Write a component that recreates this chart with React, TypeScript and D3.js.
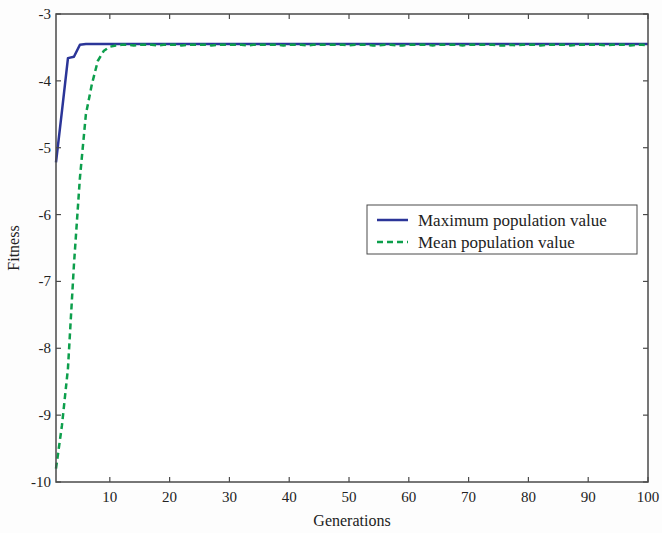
import React from "react";
import * as d3 from "d3";

// Best fitness per generation
const maxValues: number[] = [
  -5.22, -4.45, -3.66, -3.64, -3.46, -3.45, -3.45, -3.45, -3.45, -3.45,
  -3.45, -3.45, -3.45, -3.45, -3.45, -3.45, -3.45, -3.45, -3.45, -3.45,
  -3.45, -3.45, -3.45, -3.45, -3.45, -3.45, -3.45, -3.45, -3.45, -3.45,
  -3.45, -3.45, -3.45, -3.45, -3.45, -3.45, -3.45, -3.45, -3.45, -3.45,
  -3.45, -3.45, -3.45, -3.45, -3.45, -3.45, -3.45, -3.45, -3.45, -3.45,
  -3.45, -3.45, -3.45, -3.45, -3.45, -3.45, -3.45, -3.45, -3.45, -3.45,
  -3.45, -3.45, -3.45, -3.45, -3.45, -3.45, -3.45, -3.45, -3.45, -3.45,
  -3.45, -3.45, -3.45, -3.45, -3.45, -3.45, -3.45, -3.45, -3.45, -3.45,
  -3.45, -3.45, -3.45, -3.45, -3.45, -3.45, -3.45, -3.45, -3.45, -3.45,
  -3.45, -3.45, -3.45, -3.45, -3.45, -3.45, -3.45, -3.45, -3.45, -3.45,
];

// Mean fitness of the population per generation
const meanValues: number[] = [
  -9.80, -9.15, -8.30, -6.75, -5.45, -4.50, -4.05, -3.70, -3.55, -3.49,
  -3.47, -3.46, -3.46, -3.47, -3.46, -3.46, -3.46, -3.47, -3.46, -3.46,
  -3.46, -3.47, -3.46, -3.46, -3.46, -3.46, -3.47, -3.46, -3.46, -3.46,
  -3.46, -3.46, -3.47, -3.46, -3.46, -3.46, -3.46, -3.46, -3.47, -3.46,
  -3.46, -3.46, -3.47, -3.46, -3.46, -3.46, -3.46, -3.46, -3.46, -3.47,
  -3.46, -3.46, -3.46, -3.47, -3.47, -3.46, -3.46, -3.47, -3.47, -3.46,
  -3.46, -3.46, -3.46, -3.47, -3.46, -3.46, -3.46, -3.46, -3.47, -3.46,
  -3.46, -3.46, -3.46, -3.46, -3.47, -3.47, -3.46, -3.47, -3.46, -3.46,
  -3.46, -3.47, -3.46, -3.46, -3.46, -3.46, -3.47, -3.46, -3.46, -3.46,
  -3.46, -3.46, -3.47, -3.46, -3.46, -3.46, -3.47, -3.46, -3.46, -3.47,
];

const xTicks: number[] = [10, 20, 30, 40, 50, 60, 70, 80, 90, 100];
const yTicks: number[] = [-3, -4, -5, -6, -7, -8, -9, -10];
const seriesNames: string[] = ["Maximum population value", "Mean population value"];

const W = 662;
const H = 533;
const M = { left: 56, right: 14, top: 14, bottom: 51 };
const FONT = '"Liberation Serif", "DejaVu Serif", "Times New Roman", Times, serif';
const BLUE = "#2b3598";
const GREEN = "#0d9f4c";
const AXIS = "#4a4a4a";
const TICK = 5;

export default function App() {
  const x = d3.scaleLinear().domain([1, 100]).range([M.left, W - M.right]);
  const y = d3.scaleLinear().domain([-10, -3]).range([H - M.bottom, M.top]);
  const line = d3
    .line<number>()
    .x((_, i) => x(i + 1))
    .y((d) => y(d));

  const x0 = x.range()[0];
  const x1 = x.range()[1];
  const y0 = y.range()[0];
  const y1 = y.range()[1];

  const lg = { x: 367, y: 205, w: 270, h: 49 };
  const textStyle = { fontFamily: FONT };

  return (
    <svg
      width={W}
      height={H}
      style={{ position: "absolute", left: 0, top: 0, background: "#fdfdfd", fontFamily: FONT }}
    >
      <rect x={0} y={0} width={W} height={H} fill="#fdfdfd" />
      <rect x={x0} y={y1} width={x1 - x0} height={y0 - y1} fill="#ffffff" />

      {/* data lines */}
      <path d={line(maxValues) ?? ""} fill="none" stroke={BLUE} strokeWidth={2.5} strokeLinejoin="round" />
      <path
        d={line(meanValues) ?? ""}
        fill="none"
        stroke={GREEN}
        strokeWidth={2.5}
        strokeDasharray="6,4"
      />

      {/* axes box */}
      <rect x={x0} y={y1} width={x1 - x0} height={y0 - y1} fill="none" stroke={AXIS} strokeWidth={1.5} />

      {/* x ticks, bottom and top */}
      {xTicks.map((t) => (
        <g key={"x" + t}>
          <line x1={x(t)} x2={x(t)} y1={y0} y2={y0 - TICK} stroke={AXIS} strokeWidth={1.2} />
          <line x1={x(t)} x2={x(t)} y1={y1} y2={y1 + TICK} stroke={AXIS} strokeWidth={1.2} />
          <text x={x(t)} y={y0 + 20} textAnchor="middle" fontSize={15} fill="#222" style={textStyle}>
            {t}
          </text>
        </g>
      ))}

      {/* y ticks, left and right */}
      {yTicks.map((t) => (
        <g key={"y" + t}>
          <line x1={x0} x2={x0 + TICK} y1={y(t)} y2={y(t)} stroke={AXIS} strokeWidth={1.2} />
          <line x1={x1} x2={x1 - TICK} y1={y(t)} y2={y(t)} stroke={AXIS} strokeWidth={1.2} />
          <text x={x0 - 5} y={y(t) + 5} textAnchor="end" fontSize={15} fill="#222" style={textStyle}>
            {t}
          </text>
        </g>
      ))}

      {/* axis titles */}
      <text x={(x0 + x1) / 2} y={526} textAnchor="middle" fontSize={16} fill="#222" style={textStyle}>
        Generations
      </text>
      <text
        transform={`translate(19, ${(y0 + y1) / 2}) rotate(-90)`}
        textAnchor="middle"
        fontSize={16}
        fill="#222"
        style={textStyle}
      >
        Fitness
      </text>

      {/* legend */}
      <rect x={lg.x} y={lg.y} width={lg.w} height={lg.h} fill="#ffffff" stroke={AXIS} strokeWidth={1} />
      <line x1={lg.x + 10} x2={lg.x + 41} y1={lg.y + 15} y2={lg.y + 15} stroke={BLUE} strokeWidth={2.5} />
      <line
        x1={lg.x + 10}
        x2={lg.x + 41}
        y1={lg.y + 37}
        y2={lg.y + 37}
        stroke={GREEN}
        strokeWidth={2.5}
        strokeDasharray="6,4"
      />
      <text x={lg.x + 51} y={lg.y + 21} fontSize={17} fill="#222" style={textStyle}>
        {seriesNames[0]}
      </text>
      <text x={lg.x + 51} y={lg.y + 43} fontSize={17} fill="#222" style={textStyle}>
        {seriesNames[1]}
      </text>
    </svg>
  );
}
